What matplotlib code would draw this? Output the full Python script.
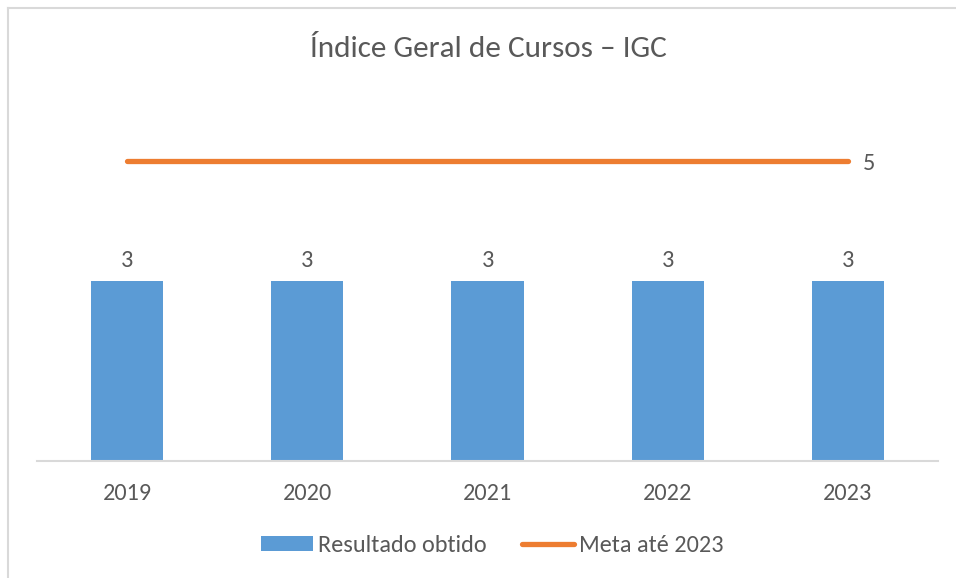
import matplotlib
matplotlib.use("Agg")
import matplotlib.pyplot as plt
from matplotlib.lines import Line2D
from matplotlib.patches import Patch

years = ["2019", "2020", "2021", "2022", "2023"]
resultado = [3, 3, 3, 3, 3]
meta = [5, 5, 5, 5, 5]
title = "Índice Geral de Cursos – IGC"
label_bar = "Resultado obtido"
label_line = "Meta até 2023"

BLUE = "#5B9BD5"
ORANGE = "#ED7D31"
TXT = "#595959"
GRID = "#D9D9D9"

plt.rcParams["font.family"] = ["Carlito", "Lato", "DejaVu Sans"]

W, H = 956, 578
fig = plt.figure(figsize=(W / 100, H / 100), dpi=100)
fig.patch.set_facecolor("white")

# chart border (top and left visible)
fig.add_artist(Line2D([8 / W, 1], [1 - 8 / H, 1 - 8 / H], color=GRID, lw=1.5, transform=fig.transFigure))
fig.add_artist(Line2D([8 / W, 8 / W], [0, 1 - 8 / H], color=GRID, lw=1.5, transform=fig.transFigure))

ax = fig.add_axes([37 / W, (H - 461) / H, (938 - 37) / W, 360 / H])
x = list(range(len(years)))
ax.bar(x, resultado, width=0.4, color=BLUE, zorder=2)
ax.plot(x, meta, color=ORANGE, lw=3.8, solid_capstyle="round", zorder=3)
ax.set_xlim(-0.5, len(years) - 0.5)
ax.set_ylim(0, 6)

FS = 17.5
for xi, v in zip(x, resultado):
    ax.annotate(str(v), (xi, v), xytext=(0, 15), textcoords="offset points",
                ha="center", va="center", fontsize=FS, color=TXT)
ax.annotate(str(meta[-1]), (x[-1], meta[-1]), xytext=(15, -1.5), textcoords="offset points",
            ha="center", va="center", fontsize=FS, color=TXT)

for s in ["top", "right", "left"]:
    ax.spines[s].set_visible(False)
ax.spines["bottom"].set_color(GRID)
ax.spines["bottom"].set_linewidth(1.5)
ax.set_yticks([])
ax.set_xticks(x)
ax.set_xticklabels(years, fontsize=FS, color=TXT)
ax.tick_params(axis="x", length=0, pad=15.5)

fig.text(488 / W, 1 - 49 / H, title, ha="center", va="center", fontsize=22.5, color=TXT)

handles = [Patch(facecolor=BLUE, edgecolor="none"),
           Line2D([0], [0], color=ORANGE, lw=3.8, solid_capstyle="round")]
fig.legend(handles, [label_bar, label_line], loc="center", bbox_to_anchor=(492 / W, 1 - 546 / H),
           ncol=2, frameon=False, fontsize=FS, labelcolor=TXT, handlelength=2.15,
           handleheight=0.58, handletextpad=0.2, columnspacing=1.45)

fig.savefig("out.png", dpi=100, facecolor="white")
